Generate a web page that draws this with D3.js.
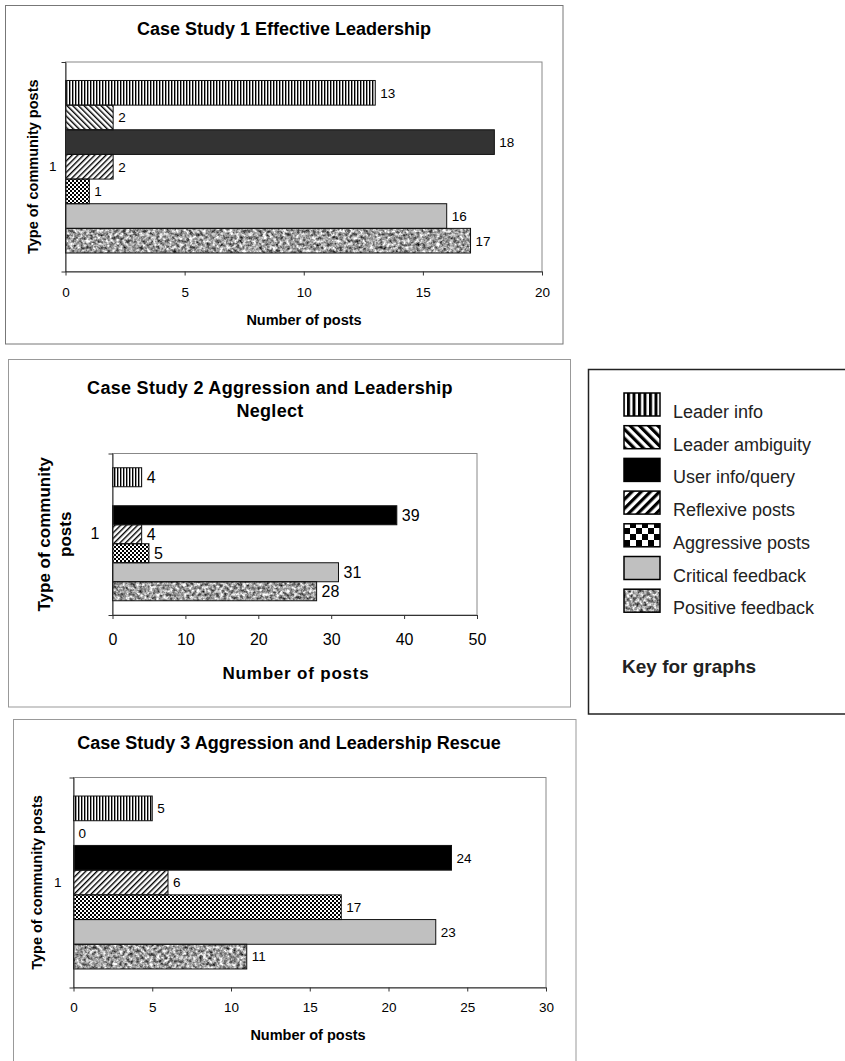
<!DOCTYPE html>
<html>
<head>
<meta charset="utf-8">
<script src="https://cdn.jsdelivr.net/npm/d3@7"></script>
<style>
  body { margin: 0; background: #fff; }
</style>
</head>
<body>
<div id="canvas"></div>
<script>
"use strict"

/* Data */
let categories = ["Leader info", "Leader ambiguity", "User info/query", "Reflexive posts",
                  "Aggressive posts", "Critical feedback", "Positive feedback"];

let case1Values = [13, 2, 18, 2, 1, 16, 17];
let case2Values = [4, null, 39, 4, 5, 31, 28];   // no leader ambiguity bar/label shown
let case3Values = [5, 0, 24, 6, 17, 23, 11];

let case1Ticks = [0, 5, 10, 15, 20];
let case2Ticks = [0, 10, 20, 30, 40, 50];
let case3Ticks = [0, 5, 10, 15, 20, 25, 30];

let case1Title = ["Case Study 1 Effective Leadership"];
let case2Title = ["Case Study 2 Aggression and Leadership", "Neglect"];
let case3Title = ["Case Study 3 Aggression and Leadership Rescue"];

let groupLabel = ["1"];
let xTitle = "Number of posts";
let legendTitle = "Key for graphs";

/* Configuration variables: drawing */
let svgWidth = 845;
let svgHeight = 1061;
let fontFamily = "'Liberation Sans', Arial, sans-serif";

let svg = d3.select("#canvas")
    .append("svg")
    .attr("width", svgWidth)
    .attr("height", svgHeight)
    .attr("font-family", fontFamily);

let defs = svg.append("defs");

/* hatch patterns, one small set for the bars and one large set for the key */
function makePatterns(prefix, stripe, stripeW, diag, diagW, cell) {
    let p = defs.append("pattern")
        .attr("id", prefix + "vlines")
        .attr("patternUnits", "userSpaceOnUse")
        .attr("width", stripe).attr("height", stripe);
    p.append("rect").attr("width", stripe).attr("height", stripe).attr("fill", "#fff");
    p.append("rect").attr("width", stripeW).attr("height", stripe).attr("fill", "#000");

    [["bslash", -45], ["fslash", 45]].forEach(function(d) {
        let q = defs.append("pattern")
            .attr("id", prefix + d[0])
            .attr("patternUnits", "userSpaceOnUse")
            .attr("width", diag).attr("height", diag)
            .attr("patternTransform", "rotate(" + d[1] + ")");
        q.append("rect").attr("width", diag).attr("height", diag).attr("fill", "#fff");
        q.append("rect").attr("width", diagW).attr("height", diag).attr("fill", "#000");
    });

    let c = defs.append("pattern")
        .attr("id", prefix + "checker")
        .attr("patternUnits", "userSpaceOnUse")
        .attr("width", cell * 2).attr("height", cell * 2);
    c.append("rect").attr("width", cell * 2).attr("height", cell * 2).attr("fill", "#fff");
    c.append("rect").attr("width", cell).attr("height", cell).attr("fill", "#000");
    c.append("rect").attr("x", cell).attr("y", cell).attr("width", cell).attr("height", cell).attr("fill", "#000");
}
makePatterns("s-", 3, 1.4, 4, 1.4, 2);
makePatterns("l-", 5.5, 3, 6.5, 3.2, 6);

/* mottled grey for positive feedback */
let noise = defs.append("filter")
    .attr("id", "noise")
    .attr("x", 0).attr("y", 0).attr("width", 1).attr("height", 1)
    .attr("color-interpolation-filters", "sRGB");
noise.append("feTurbulence")
    .attr("type", "fractalNoise")
    .attr("baseFrequency", 0.3)
    .attr("numOctaves", 3)
    .attr("seed", 7)
    .attr("result", "turb");
noise.append("feColorMatrix")
    .attr("in", "turb")
    .attr("type", "matrix")
    .attr("values", "1.5 0 0 0 -0.13  1.5 0 0 0 -0.13  1.5 0 0 0 -0.13  0 0 0 0 1")
    .attr("result", "grey");
noise.append("feComposite")
    .attr("in", "grey")
    .attr("in2", "SourceGraphic")
    .attr("operator", "in");

function fillsFor(prefix, userColor) {
    return ["url(#" + prefix + "vlines)", "url(#" + prefix + "bslash)", userColor,
            "url(#" + prefix + "fslash)", "url(#" + prefix + "checker)", "#c0c0c0", "#999"];
}

/* layout of each chart panel */
let charts = [
    {
        title: case1Title, values: case1Values, ticks: case1Ticks,
        box: {x: 5.5, y: 5.5, w: 557.5, h: 338.5}, boxColor: "#777",
        plot: {l: 65.5, r: 542, t: 62, b: 271.5},
        titleX: 284, titleY: [34.5], titleSize: 18, titleSpacing: 0,
        tickSize: 13.5, tickPad: 12, labelSize: 13.5,
        xTitleX: 304, xTitleY: 324.5, xTitleSize: 14.5, xTitleSpacing: 0,
        yTitle: ["Type of community posts"], yTitleX: [33], yTitleSize: 14.5,
        groupPad: 9, userColor: "#333"
    },
    {
        title: case2Title, values: case2Values, ticks: case2Ticks,
        box: {x: 8.5, y: 359.5, w: 562, h: 347.5}, boxColor: "#999",
        plot: {l: 112.5, r: 477, t: 453.5, b: 615},
        titleX: 270, titleY: [394, 417], titleSize: 18, titleSpacing: 0.3,
        tickSize: 16, tickPad: 15, labelSize: 16,
        xTitleX: 296, xTitleY: 679, xTitleSize: 17, xTitleSpacing: 0.8,
        yTitle: ["Type of community", "posts"], yTitleX: [44, 65], yTitleSize: 17,
        groupPad: 13, userColor: "#000"
    },
    {
        title: case3Title, values: case3Values, ticks: case3Ticks,
        box: {x: 13.5, y: 719.5, w: 562.5, h: 360}, boxColor: "#999",
        plot: {l: 73.5, r: 546, t: 777.5, b: 987.5},
        titleX: 289, titleY: [749], titleSize: 18, titleSpacing: 0,
        tickSize: 13.5, tickPad: 11, labelSize: 13.5,
        xTitleX: 308, xTitleY: 1040, xTitleSize: 14.5, xTitleSpacing: 0,
        yTitle: ["Type of community posts"], yTitleX: [37], yTitleSize: 14.5,
        groupPad: 12, userColor: "#000"
    }
];

charts.forEach(function(c) {
    let g = svg.append("g");

    /* panel border */
    g.append("rect")
        .attr("x", c.box.x).attr("y", c.box.y)
        .attr("width", c.box.w).attr("height", c.box.h)
        .attr("fill", "#fff")
        .attr("stroke", c.boxColor);

    let xScale = d3.scaleLinear()
        .domain([c.ticks[0], c.ticks[c.ticks.length - 1]])
        .range([c.plot.l, c.plot.r]);

    // Excel-like gap width of 150% around the group of 7 bars
    let yScale = d3.scaleBand()
        .domain(categories)
        .range([c.plot.t, c.plot.b])
        .paddingInner(0)
        .paddingOuter(0.75);

    let groupScale = d3.scaleBand()
        .domain(groupLabel)
        .range([c.plot.t, c.plot.b]);

    /* plot frame */
    g.append("rect")
        .attr("x", c.plot.l).attr("y", c.plot.t)
        .attr("width", c.plot.r - c.plot.l).attr("height", c.plot.b - c.plot.t)
        .attr("fill", "none")
        .attr("stroke", "#888");

    let fills = fillsFor("s-", c.userColor);
    let rows = categories.map(function(name, i) {
        return {name: name, value: c.values[i], fill: fills[i]};
    });

    let bars = rows.filter(function(d) { return d.value !== null && d.value > 0; });

    g.selectAll("rect.fillbar")
        .data(bars)
        .join("rect")
        .attr("class", "fillbar")
        .attr("x", xScale(0))
        .attr("y", function(d) { return yScale(d.name); })
        .attr("width", function(d) { return xScale(d.value) - xScale(0); })
        .attr("height", yScale.bandwidth())
        .attr("fill", function(d) { return d.fill; })
        .attr("filter", function(d) { return d.name === "Positive feedback" ? "url(#noise)" : null; });

    g.selectAll("rect.outline")
        .data(bars)
        .join("rect")
        .attr("class", "outline")
        .attr("x", xScale(0))
        .attr("y", function(d) { return yScale(d.name); })
        .attr("width", function(d) { return xScale(d.value) - xScale(0); })
        .attr("height", yScale.bandwidth())
        .attr("fill", "none")
        .attr("stroke", "#111")
        .attr("stroke-width", 1);

    g.selectAll("text.value")
        .data(rows.filter(function(d) { return d.value !== null; }))
        .join("text")
        .attr("class", "value")
        .attr("x", function(d) { return xScale(d.value) + 5; })
        .attr("y", function(d) { return yScale(d.name) + yScale.bandwidth() / 2; })
        .attr("dy", "0.36em")
        .attr("font-size", c.labelSize)
        .text(function(d) { return d.value; });

    /* axes */
    let xAxis = g.append("g")
        .attr("transform", "translate(0," + c.plot.b + ")")
        .call(d3.axisBottom(xScale).tickValues(c.ticks).tickSize(4).tickSizeOuter(0).tickPadding(c.tickPad));
    xAxis.attr("font-family", null).attr("font-size", c.tickSize);
    xAxis.selectAll("line, path").attr("stroke", "#333");
    xAxis.selectAll("text").attr("fill", "#000");

    let yAxis = g.append("g")
        .attr("transform", "translate(" + c.plot.l + ",0)")
        .call(d3.axisLeft(groupScale).tickSize(0).tickSizeOuter(4).tickPadding(c.groupPad));
    yAxis.attr("font-family", null).attr("font-size", c.tickSize);
    yAxis.selectAll("line, path").attr("stroke", "#333");
    yAxis.selectAll("text").attr("fill", "#000");

    /* titles */
    c.title.forEach(function(line, i) {
        g.append("text")
            .attr("x", c.titleX)
            .attr("y", c.titleY[i])
            .attr("text-anchor", "middle")
            .attr("font-weight", "bold")
            .attr("font-size", c.titleSize)
            .attr("letter-spacing", c.titleSpacing)
            .text(line);
    });

    g.append("text")
        .attr("x", c.xTitleX)
        .attr("y", c.xTitleY)
        .attr("text-anchor", "middle")
        .attr("font-weight", "bold")
        .attr("font-size", c.xTitleSize)
        .attr("letter-spacing", c.xTitleSpacing)
        .text(xTitle);

    let yMid = (c.plot.t + c.plot.b) / 2;
    c.yTitle.forEach(function(line, i) {
        g.append("text")
            .attr("transform", "translate(" + c.yTitleX[i] + "," + yMid + ") rotate(-90)")
            .attr("text-anchor", "middle")
            .attr("dy", "0.36em")
            .attr("font-weight", "bold")
            .attr("font-size", c.yTitleSize)
            .text(line);
    });
});

/**** key for graphs ****/
let keyX = 588.5;
let keyY = 369.5;
let swatchX = 624;
let swatchTop = 393;
let rowStep = 32.7;

svg.append("rect")
    .attr("x", keyX).attr("y", keyY)
    .attr("width", 280).attr("height", 344.5)
    .attr("fill", "#fff")
    .attr("stroke", "#222")
    .attr("stroke-width", 1.5);

let keyFills = fillsFor("l-", "#000");

for (let i = 0; i < categories.length; i++) {
    let top = swatchTop + i * rowStep;

    svg.append("rect")
        .attr("x", swatchX).attr("y", top)
        .attr("width", 36).attr("height", 23)
        .attr("fill", keyFills[i])
        .attr("filter", categories[i] === "Positive feedback" ? "url(#noise)" : null);

    svg.append("rect")
        .attr("x", swatchX).attr("y", top)
        .attr("width", 36).attr("height", 23)
        .attr("fill", "none")
        .attr("stroke", "#000")
        .attr("stroke-width", 1.5);

    svg.append("text")
        .attr("x", 673)
        .attr("y", top + 25)
        .attr("font-size", 18)
        .attr("fill", "#222")
        .text(categories[i]);
}

svg.append("text")
    .attr("x", 622)
    .attr("y", 673)
    .attr("font-size", 19)
    .attr("font-weight", "bold")
    .attr("fill", "#222")
    .text(legendTitle);
</script>
</body>
</html>
